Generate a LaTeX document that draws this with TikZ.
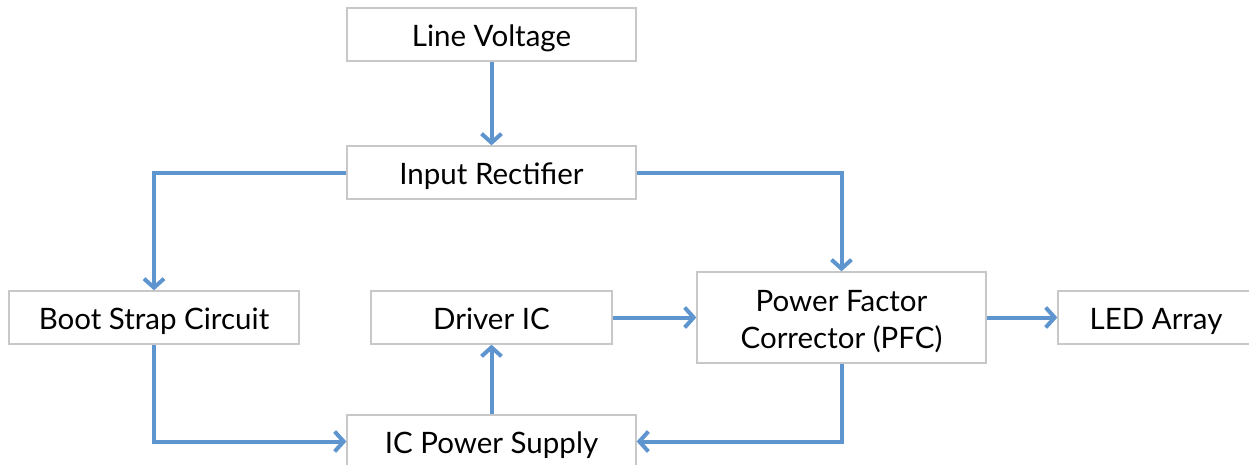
\documentclass[tikz,border=0pt]{standalone}
\usepackage{fontspec}
\setmainfont{Lato}
\usetikzlibrary{arrows.meta}
\definecolor{linkblue}{RGB}{94,149,206}
\definecolor{boxgray}{RGB}{200,200,200}
\newcommand{\lowtext}[1]{\raisebox{-5pt}[\height][\depth]{\begin{tabular}{@{}c@{}}#1\end{tabular}}}
\begin{document}
\begin{tikzpicture}[x=1pt,y=-1pt,
  blockbox/.style={draw=boxgray,line width=1.3pt,fill=white,inner sep=0pt,
    font=\fontsize{29.5}{37}\selectfont},
  conn/.style={draw=linkblue,line width=4pt,
    -{Straight Barb[length=9pt,width=20pt,line width=4pt]}}]
\useasboundingbox (0,0) rectangle (1249,464);
\node[blockbox,minimum width=289pt,minimum height=53pt] (lv) at (491.5,34.5) {\lowtext{Line Voltage}};
\node[blockbox,minimum width=289pt,minimum height=53pt] (ir) at (491.5,172.5) {\lowtext{Input Rectifier}};
\node[blockbox,minimum width=290pt,minimum height=53pt] (bs) at (154,317.5) {\lowtext{Boot Strap Circuit}};
\node[blockbox,minimum width=241pt,minimum height=53pt] (drv) at (491.5,317.5) {\lowtext{Driver IC}};
\node[blockbox,minimum width=289pt,minimum height=91pt] (pfc) at (841.5,317.5) {\lowtext{Power Factor\\Corrector (PFC)}};
\node[blockbox,minimum width=196pt,minimum height=53pt] (led) at (1156,317.5) {\lowtext{LED Array}};
\node[blockbox,minimum width=289pt,minimum height=53pt] (ips) at (491.5,441.5) {\lowtext{IC Power Supply}};
\draw[conn] (lv) -- (ir);
\draw[conn] (ir.west) -| (bs.north);
\draw[conn] (ir.east) -| (pfc.north);
\draw[conn] (bs.south) |- (ips.west);
\draw[conn] (pfc.south) |- (ips.east);
\draw[conn] (ips) -- (drv);
\draw[conn] (drv) -- (pfc);
\draw[conn] (pfc) -- (led);
\end{tikzpicture}
\end{document}
